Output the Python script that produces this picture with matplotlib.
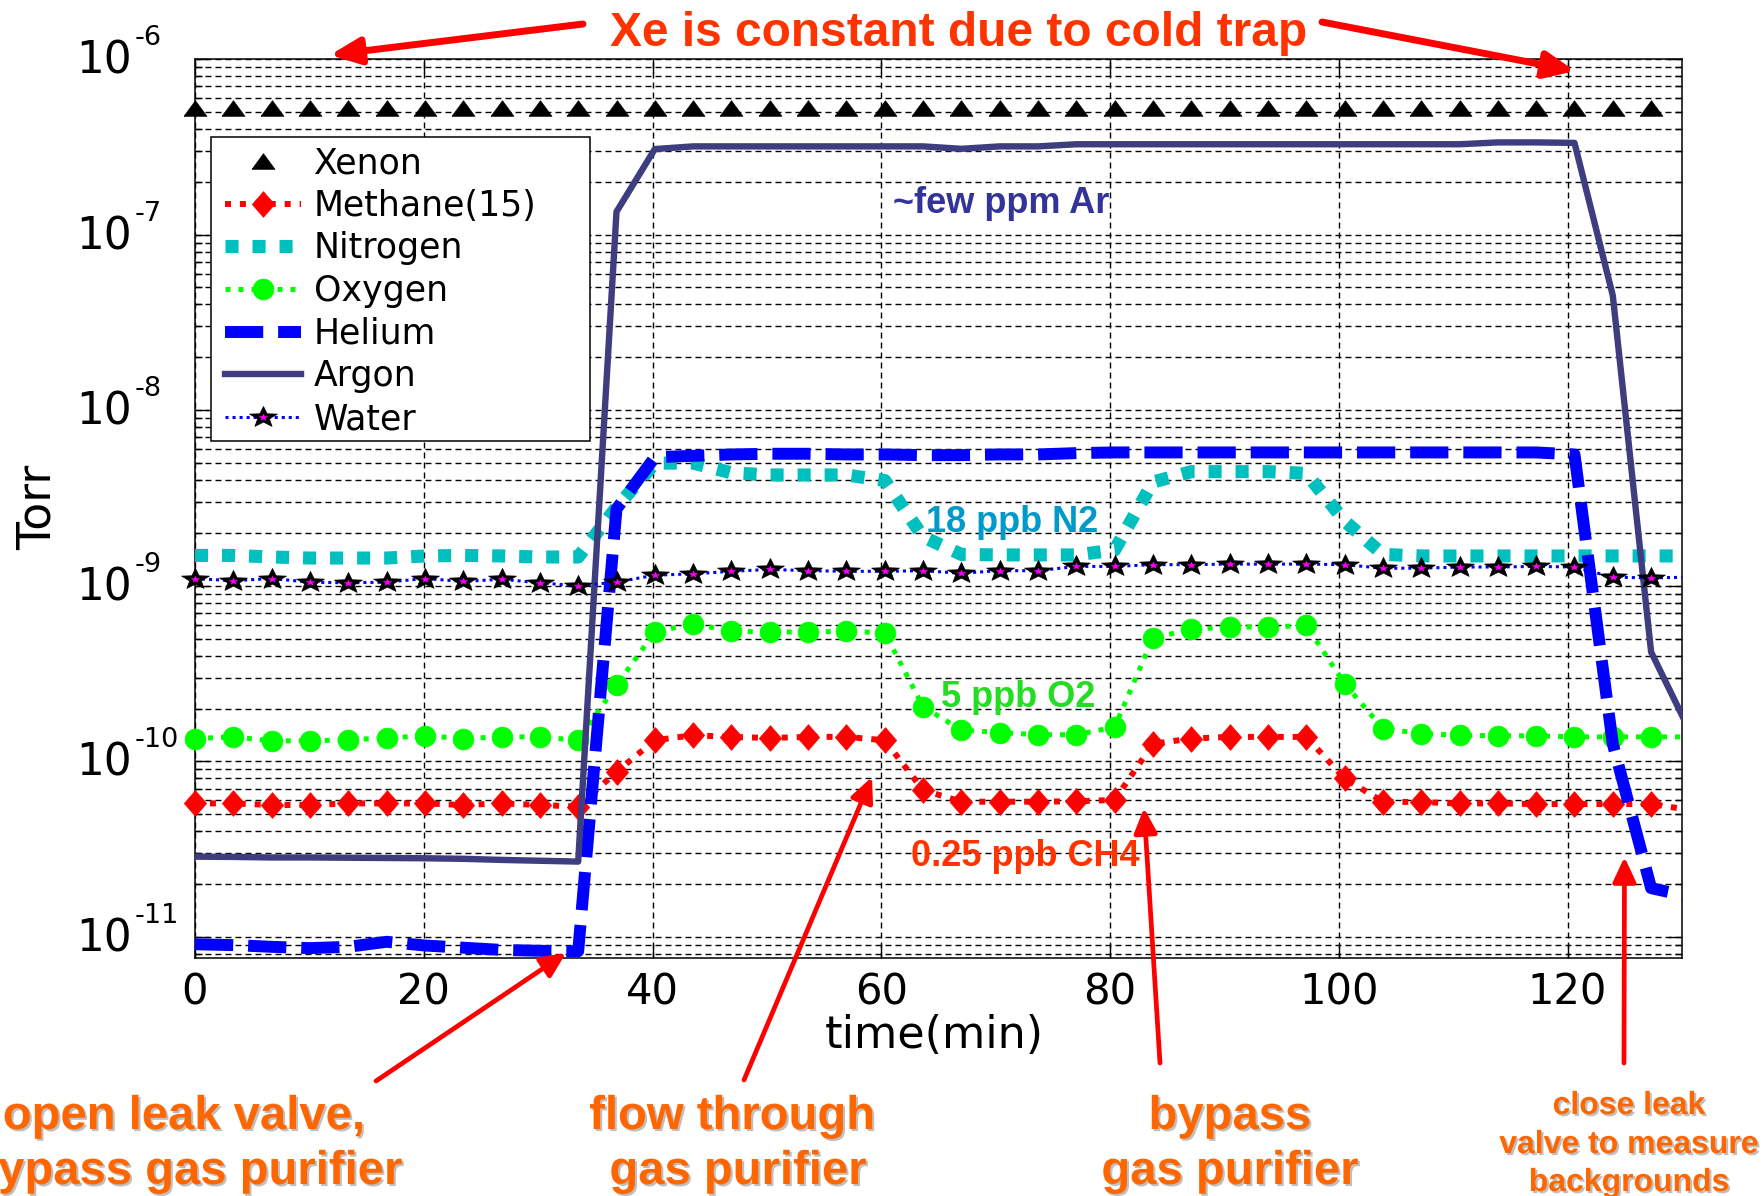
import numpy as np
import matplotlib
matplotlib.use("Agg")
import matplotlib.pyplot as plt
from matplotlib.lines import Line2D
from matplotlib.patches import Rectangle, FancyArrowPatch, ArrowStyle
from matplotlib.legend_handler import HandlerTuple
from matplotlib.ticker import LogLocator, NullFormatter, FixedLocator
import matplotlib.patheffects as pe

# ---------------- data (partial pressures in Torr) ----------------
time_min = [0.00, 3.35, 6.70, 10.05, 13.40, 16.75, 20.10, 23.45, 26.80, 30.15,
            33.50, 36.85, 40.20, 43.55, 46.90, 50.25, 53.60, 56.95, 60.30, 63.65,
            67.00, 70.35, 73.70, 77.05, 80.40, 83.75, 87.10, 90.45, 93.80, 97.15,
            100.50, 103.85, 107.20, 110.55, 113.90, 117.25, 120.60, 123.95, 127.30, 130.65]

xenon = [5.25e-7, 5.25e-7, 5.25e-7, 5.25e-7, 5.25e-7, 5.25e-7, 5.25e-7, 5.25e-7, 5.25e-7, 5.25e-7,
         5.25e-7, 5.25e-7, 5.25e-7, 5.25e-7, 5.25e-7, 5.25e-7, 5.25e-7, 5.25e-7, 5.25e-7, 5.25e-7,
         5.25e-7, 5.25e-7, 5.25e-7, 5.25e-7, 5.25e-7, 5.25e-7, 5.25e-7, 5.25e-7, 5.25e-7, 5.25e-7,
         5.25e-7, 5.25e-7, 5.25e-7, 5.25e-7, 5.25e-7, 5.25e-7, 5.25e-7, 5.25e-7, 5.25e-7, 5.25e-7]

methane = [5.77e-11, 5.77e-11, 5.65e-11, 5.65e-11, 5.77e-11, 5.77e-11, 5.77e-11, 5.65e-11, 5.77e-11, 5.65e-11,
           5.53e-11, 8.73e-11, 1.32e-10, 1.41e-10, 1.38e-10, 1.36e-10, 1.38e-10, 1.38e-10, 1.32e-10, 6.87e-11,
           5.90e-11, 5.90e-11, 5.90e-11, 5.93e-11, 6.04e-11, 1.26e-10, 1.35e-10, 1.38e-10, 1.38e-10, 1.38e-10,
           8.00e-11, 5.90e-11, 5.87e-11, 5.77e-11, 5.77e-11, 5.72e-11, 5.72e-11, 5.72e-11, 5.72e-11, 5.30e-11]

nitrogen = [1.49e-9, 1.49e-9, 1.46e-9, 1.44e-9, 1.44e-9, 1.44e-9, 1.48e-9, 1.49e-9, 1.48e-9, 1.46e-9,
            1.46e-9, 2.80e-9, 5.00e-9, 5.00e-9, 4.40e-9, 4.28e-9, 4.28e-9, 4.28e-9, 3.98e-9, 1.90e-9,
            1.51e-9, 1.50e-9, 1.50e-9, 1.50e-9, 1.60e-9, 3.90e-9, 4.47e-9, 4.47e-9, 4.47e-9, 4.37e-9,
            2.34e-9, 1.51e-9, 1.48e-9, 1.48e-9, 1.48e-9, 1.48e-9, 1.48e-9, 1.48e-9, 1.48e-9, 1.48e-9]

oxygen = [1.35e-10, 1.38e-10, 1.31e-10, 1.31e-10, 1.33e-10, 1.36e-10, 1.40e-10, 1.35e-10, 1.38e-10, 1.38e-10,
          1.32e-10, 2.72e-10, 5.46e-10, 6.08e-10, 5.51e-10, 5.46e-10, 5.46e-10, 5.51e-10, 5.41e-10, 2.05e-10,
          1.51e-10, 1.46e-10, 1.42e-10, 1.42e-10, 1.57e-10, 5.05e-10, 5.65e-10, 5.83e-10, 5.83e-10, 5.95e-10,
          2.77e-10, 1.54e-10, 1.44e-10, 1.41e-10, 1.40e-10, 1.40e-10, 1.38e-10, 1.38e-10, 1.38e-10, 1.38e-10]

helium = [9.10e-12, 9.00e-12, 8.80e-12, 8.65e-12, 8.80e-12, 9.40e-12, 8.95e-12, 8.70e-12, 8.45e-12, 8.35e-12,
          8.30e-12, 2.74e-9, 5.40e-9, 5.50e-9, 5.60e-9, 5.65e-9, 5.65e-9, 5.60e-9, 5.60e-9, 5.55e-9,
          5.55e-9, 5.60e-9, 5.60e-9, 5.70e-9, 5.75e-9, 5.75e-9, 5.75e-9, 5.75e-9, 5.75e-9, 5.75e-9,
          5.75e-9, 5.75e-9, 5.75e-9, 5.75e-9, 5.75e-9, 5.75e-9, 5.60e-9, 1.26e-10, 1.90e-11, 1.70e-11]

argon = [2.87e-11, 2.86e-11, 2.84e-11, 2.84e-11, 2.83e-11, 2.82e-11, 2.81e-11, 2.79e-11, 2.75e-11, 2.72e-11,
         2.69e-11, 1.35e-7, 3.07e-7, 3.18e-7, 3.18e-7, 3.18e-7, 3.18e-7, 3.18e-7, 3.18e-7, 3.18e-7,
         3.08e-7, 3.18e-7, 3.18e-7, 3.27e-7, 3.27e-7, 3.27e-7, 3.27e-7, 3.27e-7, 3.27e-7, 3.27e-7,
         3.27e-7, 3.27e-7, 3.27e-7, 3.27e-7, 3.35e-7, 3.35e-7, 3.33e-7, 4.50e-8, 4.20e-10, 1.50e-10]

water = [1.10e-9, 1.07e-9, 1.10e-9, 1.05e-9, 1.04e-9, 1.05e-9, 1.10e-9, 1.06e-9, 1.09e-9, 1.04e-9,
         1.00e-9, 1.05e-9, 1.15e-9, 1.17e-9, 1.21e-9, 1.24e-9, 1.22e-9, 1.21e-9, 1.21e-9, 1.22e-9,
         1.18e-9, 1.22e-9, 1.22e-9, 1.29e-9, 1.29e-9, 1.32e-9, 1.32e-9, 1.33e-9, 1.33e-9, 1.33e-9,
         1.32e-9, 1.26e-9, 1.26e-9, 1.28e-9, 1.28e-9, 1.29e-9, 1.28e-9, 1.12e-9, 1.11e-9, 1.12e-9]

series_labels = ["Xenon", "Methane(15)", "Nitrogen", "Oxygen", "Helium", "Argon", "Water"]
x_ticks = [0, 20, 40, 60, 80, 100, 120]
y_decades = [-11, -10, -9, -8, -7, -6]
x_limits = (0, 130)
y_limits = (7.6e-12, 1e-6)

# ---------------- styling ----------------
W, H = 1762, 1196
DPI = 100
N2_COLOR = "#00bfbf"
O2_COLOR = "#00ff00"
AR_COLOR = "#3d3d80"
HE_COLOR = "#0000ff"
CH4_COLOR = "#ff0000"
MATLAB_FONT = "DejaVu Sans"
PPT_FONT = "Liberation Sans"

TRI = [(-1.0, -0.68), (1.0, -0.68), (0.0, 0.68), (-1.0, -0.68)]
DIA = [(0.0, 1.0), (0.87, 0.0), (0.0, -1.0), (-0.87, 0.0), (0.0, 1.0)]


def star_shape(inner=0.42, xscale=1.33):
    pts = []
    for k in range(10):
        ang = np.pi / 2 + k * np.pi / 5
        r = 1.0 if k % 2 == 0 else inner
        pts.append((xscale * r * np.cos(ang), r * np.sin(ang)))
    pts.append(pts[0])
    return pts


STAR = star_shape()


def fx(x):
    return x / W


def fy(y):
    return 1.0 - y / H


fig = plt.figure(figsize=(W / DPI, H / DPI), dpi=DPI)
fig.patch.set_facecolor("white")
ax = fig.add_axes([fx(195), fy(958), 1487 / W, 899 / H])
ax.set_yscale("log")
ax.set_xlim(*x_limits)
ax.set_ylim(*y_limits)

t = np.asarray(time_min)
vis = t <= x_limits[1]

# style definitions for each gas
dot_ch4 = dict(color=CH4_COLOR, lw=4.3, ls=(0, (1, 1.5)))
dot_n2 = dict(color=N2_COLOR, lw=9.4, ls=(0, (1, 1.07)))
dot_o2 = dict(color=O2_COLOR, lw=3.6, ls=(0, (1, 1.6)))
dash_he = dict(color=HE_COLOR, lw=8.6, ls=(0, (3.2, 1.25)))
solid_ar = dict(color=AR_COLOR, lw=4.6, ls="-")
dot_h2o = dict(color="#0000ff", lw=2.2, ls=(0, (1, 1.3)))

mk_xe = dict(marker=TRI, ms=16.5, mfc="k", mec="k", mew=0.5)
mk_ch4 = dict(marker=DIA, ms=18.5, mfc=CH4_COLOR, mec=CH4_COLOR, mew=0.5)
mk_o2 = dict(marker="o", ms=15, mfc=O2_COLOR, mec=O2_COLOR, mew=0.5)
mk_star = dict(marker=STAR, ms=20, mfc="k", mec="k", mew=0.5)
mk_star_in = dict(marker=STAR, ms=6, mfc="#ff00ff", mec="#ff00ff", mew=0.3)

# Xenon: markers only
ax.plot(t[vis], np.asarray(xenon)[vis], ls="none", zorder=3.0, clip_on=False, **mk_xe)
# Methane
ax.plot(t, methane, zorder=3.1, **dot_ch4)
ax.plot(t[vis], np.asarray(methane)[vis], ls="none", zorder=3.15, clip_on=False, **mk_ch4)
# Nitrogen
ax.plot(t, nitrogen, zorder=3.2, **dot_n2)
# Oxygen
ax.plot(t, oxygen, zorder=3.3, **dot_o2)
ax.plot(t[vis], np.asarray(oxygen)[vis], ls="none", zorder=3.35, clip_on=False, **mk_o2)
# Helium
ax.plot(t, helium, zorder=3.4, **dash_he)
# Argon
ax.plot(t, argon, zorder=3.5, **solid_ar)
# Water
ax.plot(t, water, zorder=3.6, **dot_h2o)
ax.plot(t[vis], np.asarray(water)[vis], ls="none", zorder=3.7, clip_on=False, **mk_star)
ax.plot(t[vis], np.asarray(water)[vis], ls="none", zorder=3.75, clip_on=False, **mk_star_in)

# ---------------- axes, grid, ticks ----------------
ax.set_xticks(x_ticks)
ax.set_xticklabels([str(v) for v in x_ticks], fontsize=30, family=MATLAB_FONT)
ax.yaxis.set_major_locator(FixedLocator([10.0 ** e for e in y_decades]))
ax.yaxis.set_minor_locator(LogLocator(base=10, subs=np.arange(2, 10)))
ax.yaxis.set_major_formatter(NullFormatter())
ax.yaxis.set_minor_formatter(NullFormatter())
ax.tick_params(which="both", direction="in", top=True, right=True, width=1.0, color="k")
ax.tick_params(which="major", length=10)
ax.tick_params(which="minor", length=5)
ax.tick_params(axis="x", pad=10)
grid_style = dict(color="k", lw=1.0, ls=(0, (4.3, 2.9)))
ax.grid(True, which="major", axis="both", **grid_style)
ax.grid(True, which="minor", axis="y", **grid_style)
ax.set_axisbelow(True)
for sp in ax.spines.values():
    sp.set_linewidth(1.1)
    sp.set_color("k")

# decade labels 10^n drawn as base + raised exponent
ytr = ax.get_yaxis_transform()
for e in y_decades:
    ax.annotate("10", xy=(0, 10.0 ** e), xycoords=ytr, xytext=(-63, -14.5),
                textcoords="offset pixels", ha="right", va="baseline",
                fontsize=31.5, family=MATLAB_FONT, annotation_clip=False)
    ax.annotate(f"{e}", xy=(0, 10.0 ** e), xycoords=ytr, xytext=(-60, 14),
                textcoords="offset pixels", ha="left", va="baseline",
                fontsize=19.5, family=MATLAB_FONT, annotation_clip=False)

fig.text(fx(934), fy(1036), "time(min)", ha="center", va="center",
         fontsize=32, family=MATLAB_FONT)
fig.text(fx(38), fy(507), "Torr", ha="center", va="center", rotation=90,
         fontsize=33, family=MATLAB_FONT)

# ---------------- legend ----------------
ax.add_patch(Rectangle((16 / 1487, 1 - 381.5 / 899), 379 / 1487, 303.5 / 899,
                       transform=ax.transAxes, facecolor="white", edgecolor="k",
                       lw=1.1, zorder=5, clip_on=False))
h_xe = Line2D([], [], ls="none", **mk_xe)
h_ch4 = Line2D([], [], **dot_ch4, **mk_ch4)
h_n2 = Line2D([], [], **dot_n2)
h_o2 = Line2D([], [], **dot_o2, **mk_o2)
h_he = Line2D([], [], **dash_he)
h_ar = Line2D([], [], **solid_ar)
h_h2o = (Line2D([], [], **dot_h2o), Line2D([], [], ls="none", **mk_star),
         Line2D([], [], ls="none", **mk_star_in))
leg = ax.legend([h_xe, h_ch4, h_n2, h_o2, h_he, h_ar, h_h2o], series_labels,
                loc="upper left", bbox_to_anchor=(30 / 1487, 1 - 87 / 899),
                frameon=False, borderpad=0, borderaxespad=0,
                handlelength=2.19, handletextpad=0.36, labelspacing=0.25,
                prop={"family": MATLAB_FONT, "size": 25},
                handler_map={tuple: HandlerTuple(ndivide=1, pad=0)})
leg.set_zorder(6)

# ---------------- in-plot labels ----------------
fig.text(fx(1001), fy(213), "~few ppm Ar", ha="center", va="baseline",
         fontsize=26, weight="bold", family=PPT_FONT, color="#333399")
fig.text(fx(1012), fy(532), "18 ppb N2", ha="center", va="baseline",
         fontsize=26, weight="bold", family=PPT_FONT, color="#0099cc")
fig.text(fx(1018), fy(707), "5 ppb O2", ha="center", va="baseline",
         fontsize=26, weight="bold", family=PPT_FONT, color="#22dd22")
fig.text(fx(1025), fy(866), "0.25 ppb CH4", ha="center", va="baseline",
         fontsize=26, weight="bold", family=PPT_FONT, color="#ff3300")

# ---------------- callouts ----------------
fig.text(fx(959), fy(46.5), "Xe is constant due to cold trap", ha="center",
         va="baseline", fontsize=34.5, weight="bold", family=PPT_FONT, color="#ff3300")

shadow = [pe.withSimplePatchShadow(offset=(1.5, -1.5), shadow_rgbFace="#8c8c8c", alpha=0.55)]
orange = "#ff6600"
notes = [
    ("open leak valve,", 184, 1129, 34),
    ("bypass gas purifier", 186, 1184, 34),
    ("flow through", 732, 1129, 34),
    ("gas purifier", 738, 1184, 34),
    ("bypass", 1230, 1129, 34),
    ("gas purifier", 1230, 1184, 34),
    ("close leak", 1629, 1114, 23),
    ("valve to measure", 1629, 1153, 23),
    ("backgrounds", 1629, 1191, 23),
]
for txt, x, y, size in notes:
    fig.text(fx(x), fy(y), txt, ha="center", va="baseline", fontsize=size,
             weight="bold", family=PPT_FONT, color=orange, path_effects=shadow)


def arrow(tail, tip, lw, hl, hw):
    style = ArrowStyle("-|>", head_length=hl, head_width=hw)
    fig.add_artist(FancyArrowPatch((fx(tail[0]), fy(tail[1])), (fx(tip[0]), fy(tip[1])),
                                   transform=fig.transFigure, arrowstyle=style,
                                   mutation_scale=1, lw=lw, color="#ff0000",
                                   shrinkA=0, shrinkB=0, zorder=10))


arrow((583, 24), (330, 55), 5.0, 18, 8)
arrow((1322, 22), (1575, 71), 5.0, 18, 8)
arrow((376, 1081), (566, 953), 3.4, 15, 7)
arrow((744, 1080), (872, 777), 3.4, 15, 7)
arrow((1160, 1063), (1144, 808), 3.4, 15, 7)
arrow((1624, 1063), (1624.5, 857), 3.4, 15, 7)

fig.savefig("out.png", dpi=DPI, facecolor="white")
